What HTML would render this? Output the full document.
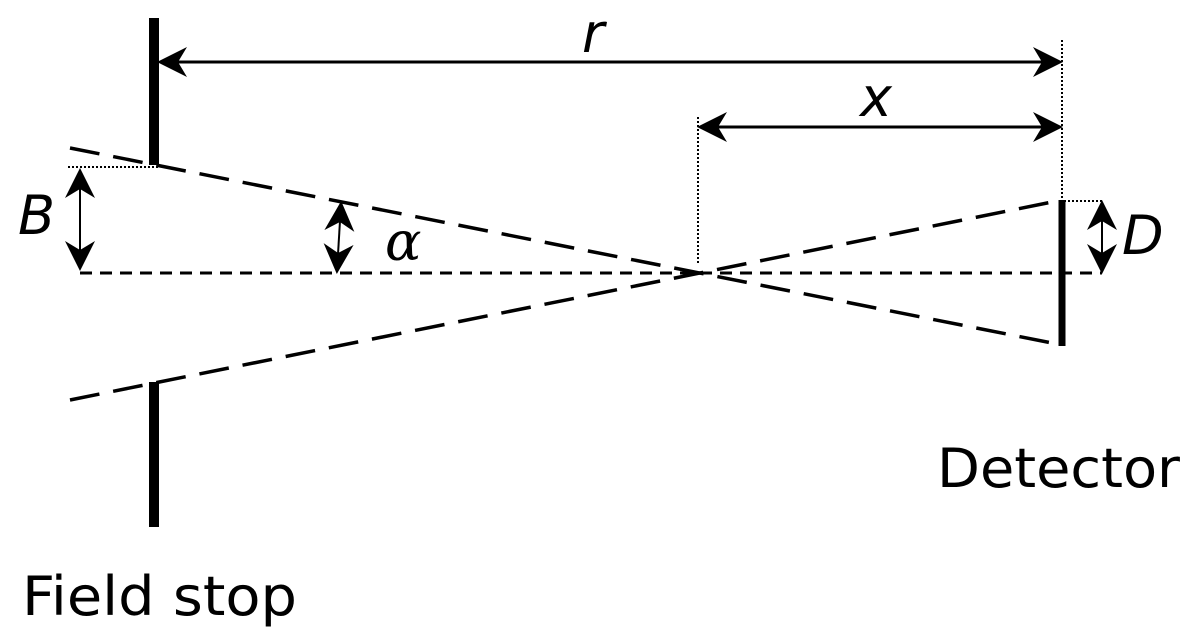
<!DOCTYPE html>
<html><head><style>body{margin:0;background:#fff}svg{display:block}</style></head><body>
<svg width="1200" height="639" viewBox="0 0 1200 639" xmlns="http://www.w3.org/2000/svg" font-family="DejaVu Sans, Liberation Sans, sans-serif">
<defs>
<marker id="b" viewBox="0 0 10 10" refX="9" refY="5" markerWidth="30" markerHeight="30" markerUnits="userSpaceOnUse" orient="auto-start-reverse">
<path d="M0,0 L10,5 L0,10 L3,5 Z" fill="#000"/></marker>
</defs>
<g stroke="#000" fill="none">
<line x1="154" y1="18" x2="154" y2="165" stroke-width="10"/>
<line x1="154" y1="382" x2="154" y2="527" stroke-width="10"/>
<line x1="1062" y1="200" x2="1062" y2="346" stroke-width="7"/>
<line x1="70" y1="148" x2="1062" y2="345" stroke-width="3.5" stroke-dasharray="30,14"/>
<line x1="70" y1="400" x2="1062" y2="200" stroke-width="3.5" stroke-dasharray="30,14"/>
<line x1="80" y1="273" x2="1102" y2="273" stroke-width="3" stroke-dasharray="12,8"/>
<line x1="1062" y1="40" x2="1062" y2="200" stroke-width="2" stroke-dasharray="2,2"/>
<line x1="698" y1="117" x2="698" y2="265" stroke-width="2" stroke-dasharray="2,2"/>
<line x1="68" y1="167" x2="158" y2="167" stroke-width="2" stroke-dasharray="2,2"/>
<line x1="1064" y1="201" x2="1102" y2="201" stroke-width="2" stroke-dasharray="2,2"/>
<line x1="160" y1="62" x2="1060" y2="62" stroke-width="3" marker-start="url(#b)" marker-end="url(#b)"/>
<line x1="700" y1="127" x2="1060" y2="127" stroke-width="3" marker-start="url(#b)" marker-end="url(#b)"/>
<line x1="80" y1="171" x2="80" y2="268" stroke-width="2" marker-start="url(#b)" marker-end="url(#b)"/>
<line x1="341" y1="204" x2="337" y2="271" stroke-width="2" marker-start="url(#b)" marker-end="url(#b)"/>
<line x1="1102" y1="203" x2="1102" y2="271" stroke-width="2" marker-start="url(#b)" marker-end="url(#b)"/>
</g>
<g fill="#000" font-style="italic" font-size="54">
<text x="582" y="52">r</text>
<text x="860" y="116">x</text>
<text x="18" y="234">B</text>
<text x="385" y="260" font-family="DejaVu Serif, serif">α</text>
<text x="1122" y="254">D</text>
</g>
<g fill="#000" font-size="54">
<text x="937" y="487" textLength="243" lengthAdjust="spacingAndGlyphs">Detector</text>
<text x="22" y="615" textLength="275" lengthAdjust="spacingAndGlyphs">Field stop</text>
</g>
</svg>
</body></html>
